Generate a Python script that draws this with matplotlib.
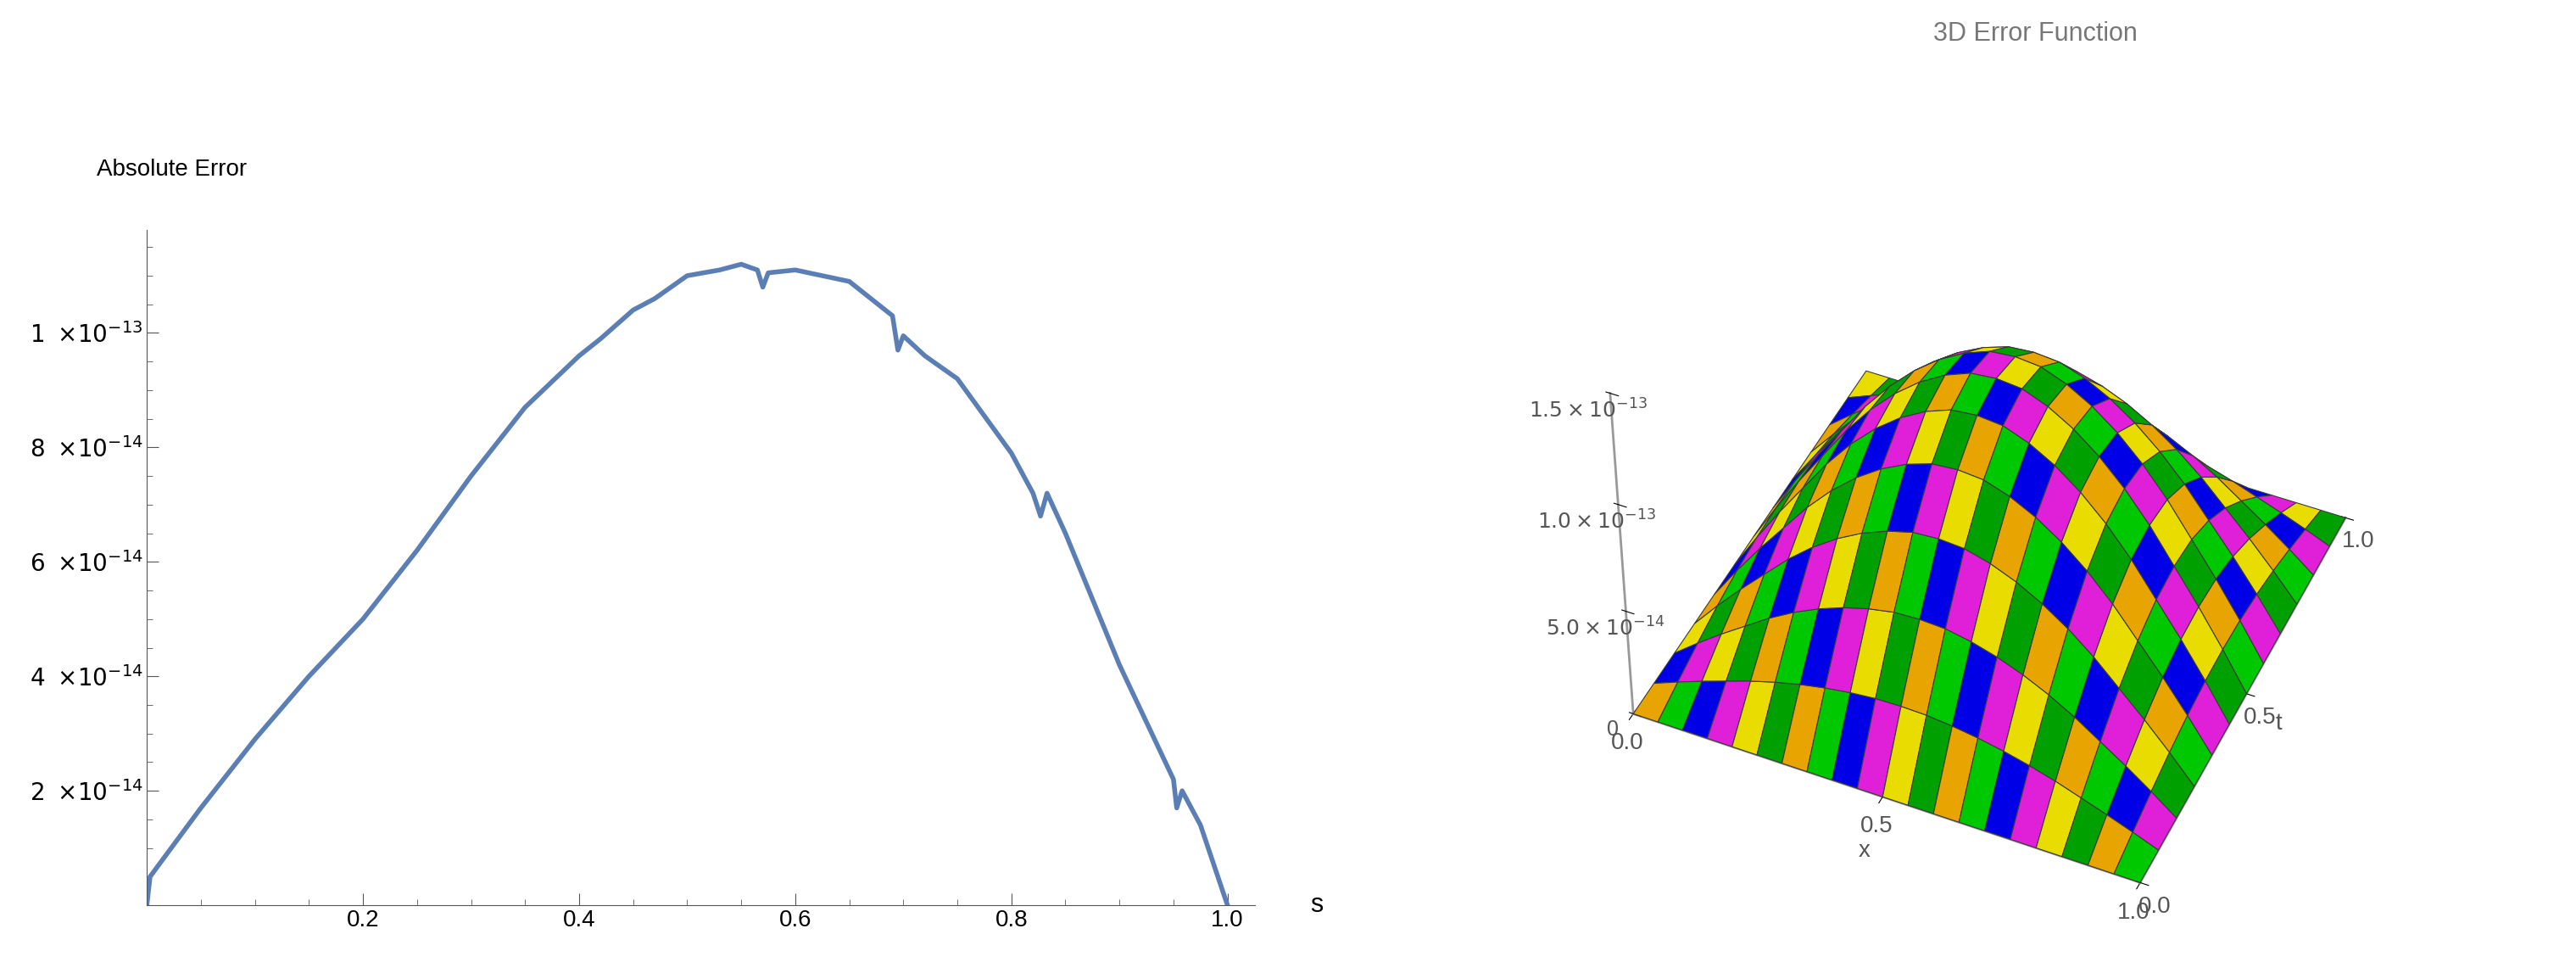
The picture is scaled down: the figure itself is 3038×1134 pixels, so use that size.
import matplotlib.pyplot as plt
import numpy as np
from matplotlib.ticker import MultipleLocator

# error curve (values in units of 1e-14)
s_vals = [0.0, 0.003, 0.05, 0.1, 0.15, 0.2, 0.25, 0.3, 0.35, 0.4, 0.42, 0.45,
          0.47, 0.5, 0.53, 0.55, 0.565, 0.57, 0.575, 0.6, 0.65, 0.69, 0.695,
          0.70, 0.72, 0.75, 0.8, 0.82, 0.827, 0.833, 0.85, 0.9, 0.95, 0.953,
          0.958, 0.975, 1.0]
err_vals = [0.0, 0.5, 1.7, 2.9, 4.0, 5.0, 6.2, 7.5, 8.7, 9.6, 9.9, 10.4,
            10.6, 11.0, 11.1, 11.2, 11.1, 10.8, 11.05, 11.1, 10.9, 10.3, 9.7,
            9.95, 9.6, 9.2, 7.9, 7.2, 6.8, 7.2, 6.5, 4.2, 2.2, 1.7,
            2.0, 1.4, 0.0]

yticks = [2e-14, 4e-14, 6e-14, 8e-14, 1e-13]
ytick_labels = [r'$2\ \times\!10^{-14}$', r'$4\ \times\!10^{-14}$', r'$6\ \times\!10^{-14}$',
                r'$8\ \times\!10^{-14}$', r'$1\ \times\!10^{-13}$']
xticks = [0.2, 0.4, 0.6, 0.8, 1.0]

# 3D surface: relative height profiles along x and t (dome, zero on the border)
grid_x = [0.0, 0.05, 0.1, 0.15, 0.2, 0.25, 0.3, 0.35, 0.4, 0.45, 0.5,
          0.55, 0.6, 0.65, 0.7, 0.75, 0.8, 0.85, 0.9, 0.95, 1.0]
prof_x = [0.0, 0.16, 0.31, 0.45, 0.59, 0.71, 0.81, 0.89, 0.95, 0.99, 1.0,
          0.99, 0.95, 0.89, 0.81, 0.71, 0.59, 0.45, 0.31, 0.16, 0.0]
grid_t = [0.0, 0.0833, 0.1667, 0.25, 0.3333, 0.4167, 0.5, 0.5833, 0.6667,
          0.75, 0.8333, 0.9167, 1.0]
prof_t = [0.0, 0.26, 0.5, 0.71, 0.87, 0.97, 1.0, 0.97, 0.87, 0.71, 0.5, 0.26, 0.0]
peak_3d = 1.12e-13
zticks = [0, 5e-14, 1e-13, 1.5e-13]
ztick_labels = ['0', r'$5.0\times10^{-14}$', r'$1.0\times10^{-13}$', r'$1.5\times10^{-13}$']
palette = ['#e8a400', '#00c800', '#0000e6', '#e020d8', '#e8dc00', '#00a000']

plt.rcParams['font.family'] = ['Liberation Sans', 'DejaVu Sans']
fig = plt.figure(figsize=(30.38, 11.34), dpi=100)

# ---- left: absolute error
ax = fig.add_axes([0.057, 0.059, 0.43, 0.702])
ax.plot(s_vals, np.array(err_vals) * 1e-14, color='#5b7fb5', lw=4)
ax.set_xlim(0, 1.025)
ax.set_ylim(0, 1.18e-13)
ax.set_yticks(yticks)
ax.set_yticklabels(ytick_labels, fontsize=20)
ax.yaxis.set_minor_locator(MultipleLocator(5e-15))
ax.set_xticks(xticks)
ax.set_xticklabels(['0.2', '0.4', '0.6', '0.8', '1.0'], fontsize=20)
ax.xaxis.set_minor_locator(MultipleLocator(0.05))
for side in ['top', 'right']:
    ax.spines[side].set_visible(False)
for side in ['left', 'bottom']:
    ax.spines[side].set_color('#555555')
ax.tick_params(which='both', color='#555555', direction='in')
ax.tick_params(which='major', length=10)
ax.tick_params(which='minor', length=5)
ax.text(1.05, 0, 's', fontsize=22, va='center', transform=ax.get_yaxis_transform())
ax.text(-0.045, 1.08, 'Absolute Error', fontsize=20, transform=ax.transAxes)

# ---- right: 3D surface
ax3 = fig.add_axes([0.53, 0.02, 0.48, 0.98], projection='3d')
X, T = np.meshgrid(grid_x, grid_t, indexing='ij')
Z = peak_3d * np.outer(prof_x, prof_t)
nx, nt = len(grid_x) - 1, len(grid_t) - 1
fc = np.empty((nx, nt), dtype=object)
for i in range(nx):
    for j in range(nt):
        fc[i, j] = palette[(i + 2 * j) % len(palette)]
ax3.plot_surface(X, T, Z, facecolors=fc, edgecolor='#3a3a3a', linewidth=0.8,
                 shade=False, rstride=1, cstride=1, antialiased=True)
ax3.set_xlim(0, 1)
ax3.set_ylim(0, 1)
ax3.set_zlim(0, 1.5e-13)
ax3.set_box_aspect((1, 1, 0.8), zoom=0.93)
ax3.view_init(elev=44, azim=-66)
# put the z axis on the left front corner, as in the reference
ax3.zaxis._axinfo['juggled'] = (1, 2, 0)
ax3.set_xticks([0.0, 0.5, 1.0])
ax3.set_xticklabels(['0.0', '0.5', '1.0'], fontsize=20, color='#555555')
ax3.set_yticks([0.0, 0.5, 1.0])
ax3.set_yticklabels(['0.0', '0.5', '1.0'], fontsize=20, color='#555555')
ax3.set_zticks(zticks)
ax3.set_zticklabels(ztick_labels, fontsize=18, color='#555555')
ax3.set_xlabel('x', fontsize=20, color='#555555', labelpad=12)
ax3.set_ylabel('t', fontsize=20, color='#555555', labelpad=6)
ax3.grid(False)
for a in (ax3.xaxis, ax3.yaxis, ax3.zaxis):
    a.set_pane_color((1, 1, 1, 0))
    a.line.set_color('#999999')
    a.line.set_linewidth(2)
fig.text(0.79, 0.965, '3D Error Function', fontsize=22, color='#777777', ha='center', va='center')

fig.savefig('out.png', dpi=100)
